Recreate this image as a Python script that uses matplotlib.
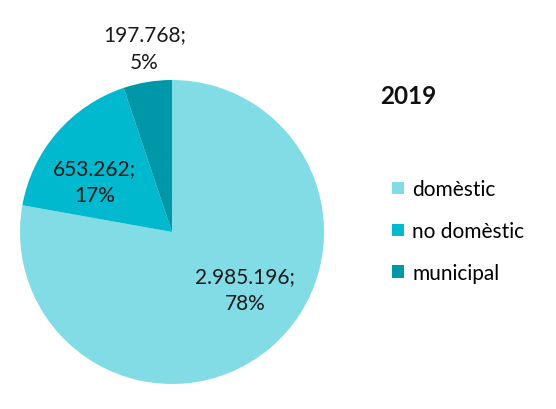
import matplotlib.pyplot as plt
from matplotlib.patches import Patch

plt.rcParams["font.family"] = ["Lato", "DejaVu Sans"]

title = "2019"
categories = ["domèstic", "no domèstic", "municipal"]
values = [2985196, 653262, 197768]
value_labels = ["2.985.196", "653.262", "197.768"]
colors = ["#82DCE6", "#00B9CE", "#0098A8"]

W, H = 556, 410
fig = plt.figure(figsize=(W / 100, H / 100), dpi=100)
ax = fig.add_axes([20 / W, 25 / H, 304 / W, 304 / H])
wedges, _ = ax.pie(values, colors=colors, startangle=90, counterclock=False,
                   radius=1, wedgeprops={"linewidth": 0})
ax.set_xlim(-1, 1)
ax.set_ylim(-1, 1)
ax.set_aspect("equal")
ax.axis("off")

total = sum(values)
label_pos = [(0.48, -0.38), (-0.51, 0.33), (-0.18, 1.21)]
for v, lab, (x, y) in zip(values, value_labels, label_pos):
    pct = round(100 * v / total)
    ax.text(x, y, f"{lab};\n{pct}%", ha="center", va="center", fontsize=15,
            linespacing=1.45, color="#1a1a1a", clip_on=False)

fig.text(408 / W, 1 - 96 / H, title, ha="center", va="center",
         fontsize=17.5, fontweight="bold", color="#111111")

handles = [Patch(facecolor=c, edgecolor="none") for c in colors]
fig.legend(handles, categories, loc="upper left",
           bbox_to_anchor=(384 / W, 1 - 172 / H), frameon=False,
           fontsize=15, handlelength=0.55, handleheight=0.55,
           handletextpad=0.4, labelspacing=1.05, borderaxespad=0)

fig.savefig("out.png", dpi=100)
